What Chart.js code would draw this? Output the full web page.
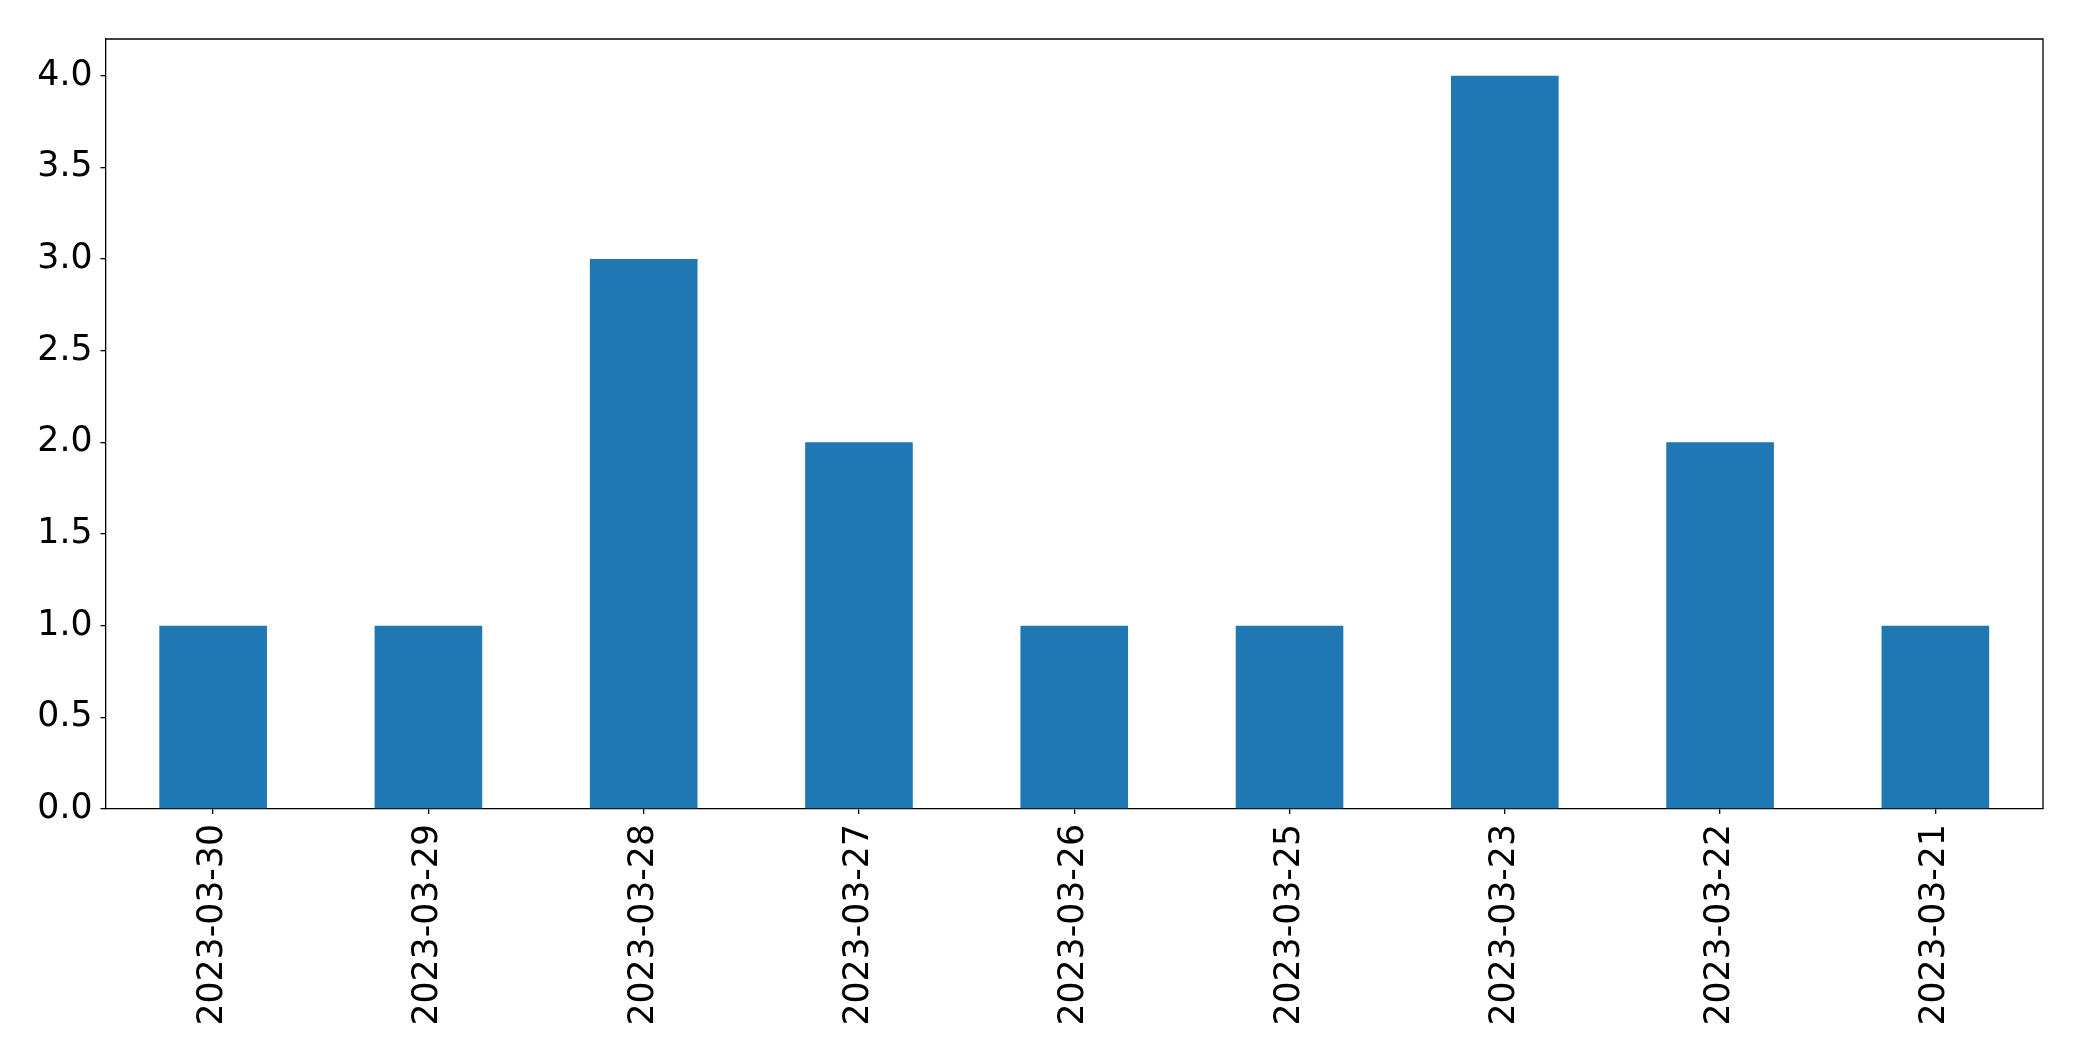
<!DOCTYPE html>
<html>
<head>
<meta charset="utf-8">
<script src="https://cdn.jsdelivr.net/npm/chart.js@4"></script>
<style>
	body { margin: 0; background: white; }
	canvas { display: block; }
</style>
</head>
<body>
<canvas id="grafico" width="2082" height="1061"></canvas>
<script>
var datas = ['2023-03-30', '2023-03-29', '2023-03-28', '2023-03-27', '2023-03-26', '2023-03-25', '2023-03-23', '2023-03-22', '2023-03-21'];
var contagens = [1, 1, 3, 2, 1, 1, 4, 2, 1];
var yMax = 4.2;
var yPasso = 0.5;

// moldura de cima e da direita, como no matplotlib
var moldura = {
	id: 'moldura',
	afterDraw: function (chart) {
		let ctx = chart.ctx;
		let a = chart.chartArea;
		ctx.save();
		ctx.strokeStyle = 'black';
		ctx.lineWidth = 1.3;
		ctx.beginPath();
		ctx.moveTo(a.left, a.top);
		ctx.lineTo(a.right, a.top);
		ctx.lineTo(a.right, a.bottom);
		ctx.stroke();
		ctx.restore();
	}
};

function carregarGrafico() {
	let canvas = document.getElementById('grafico');

	let grafico = new Chart(canvas, {
		type: 'bar',
		data: {
			labels: datas,
			datasets: [{
				data: contagens,
				backgroundColor: '#1f77b4',
				borderWidth: 0,
				barPercentage: 0.5,
				categoryPercentage: 1
			}]
		},
		options: {
			responsive: false,
			animation: false,
			layout: {
				padding: { left: 0, top: 39, right: 39, bottom: 0 }
			},
			plugins: {
				legend: { display: false },
				tooltip: { enabled: false }
			},
			scales: {
				x: {
					grid: {
						display: true,
						drawOnChartArea: false,
						drawTicks: true,
						tickLength: 5,
						offset: false,
						color: 'black',
						lineWidth: 1.3
					},
					border: { display: true, color: 'black', width: 1.3 },
					ticks: {
						autoSkip: false,
						minRotation: 90,
						maxRotation: 90,
						padding: 10,
						color: 'black',
						font: { family: 'DejaVu Sans', size: 34.7 }
					},
					afterFit: function (scale) {
						scale.height = 252;
					}
				},
				y: {
					min: 0,
					max: yMax,
					grid: {
						display: true,
						drawOnChartArea: false,
						drawTicks: true,
						tickLength: 5,
						color: 'black',
						lineWidth: 1.3
					},
					border: { display: true, color: 'black', width: 1.3 },
					ticks: {
						stepSize: yPasso,
						includeBounds: false,
						padding: 8,
						color: 'black',
						font: { family: 'DejaVu Sans', size: 34.7 },
						callback: function (valor) {
							return valor.toFixed(1);
						}
					},
					afterFit: function (scale) {
						scale.width = 105.5;
					}
				}
			}
		},
		plugins: [moldura]
	});
}

carregarGrafico();
</script>
</body>
</html>
